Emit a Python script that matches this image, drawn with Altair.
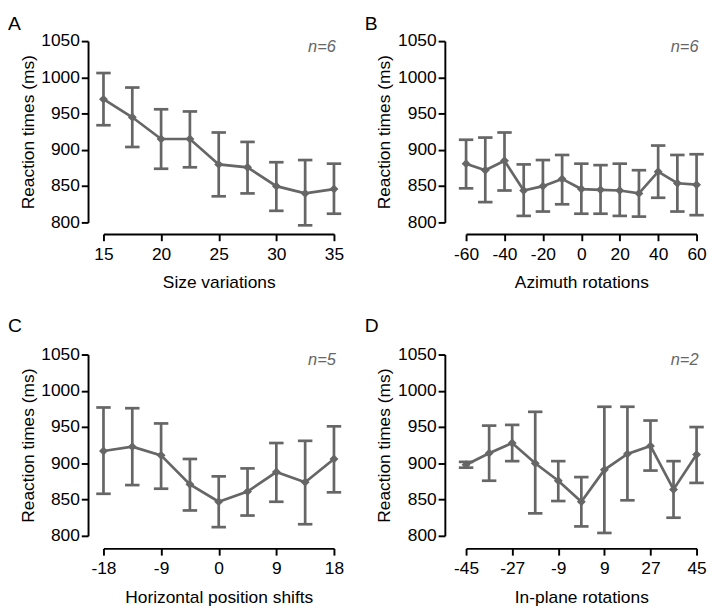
import altair as alt
import pandas as pd

# ---------- data ----------
xA = [15, 17.5, 20, 22.5, 25, 27.5, 30, 32.5, 35]
meanA = [970, 945, 915, 915, 880, 876, 850, 840, 846]
upA = [1006, 986, 956, 953, 924, 911, 883, 886, 881]
loA = [934, 904, 874, 876, 836, 840, 816, 796, 812]

xB = [-60, -50, -40, -30, -20, -10, 0, 10, 20, 30, 40, 50, 60]
meanB = [881, 872, 885, 844, 850, 860, 846, 845, 844, 840, 870, 854, 852]
upB = [914, 917, 924, 880, 886, 893, 881, 879, 881, 872, 906, 893, 894]
loB = [847, 828, 844, 809, 815, 825, 812, 812, 809, 808, 834, 815, 810]

xC = [-18, -13.5, -9, -4.5, 0, 4.5, 9, 13.5, 18]
meanC = [917, 923, 911, 871, 847, 861, 888, 874, 906]
upC = [977, 976, 955, 906, 882, 893, 928, 931, 951]
loC = [858, 870, 865, 835, 812, 828, 847, 816, 860]

xD = [-45, -36, -27, -18, -9, 0, 9, 18, 27, 36, 45]
meanD = [898, 914, 928, 900, 876, 847, 891, 913, 924, 864, 912]
upD = [902, 952, 953, 971, 903, 881, 978, 978, 959, 903, 950]
loD = [894, 876, 903, 831, 848, 813, 804, 849, 890, 825, 873]

ticksA = [15, 20, 25, 30, 35]
ticksB = [-60, -40, -20, 0, 20, 40, 60]
ticksC = [-18, -9, 0, 9, 18]
ticksD = [-45, -27, -9, 9, 27, 45]
yticks = [800, 850, 900, 950, 1000, 1050]

GREY = "#666666"
W, H = 239, 188
FS = 18
SW = 2.8


def panel(xs, mean, up, lo, xticks, xtitle, letter, ntext, yoff, xoff, letter_dx, letter_dy):
    df = pd.DataFrame({"x": xs, "mean": mean, "up": up, "lo": lo})
    xdom = [min(xs), max(xs)]

    def X():
        return alt.X("x:Q", scale=alt.Scale(domain=xdom, nice=False, zero=False),
                     axis=alt.Axis(values=xticks, title=xtitle, offset=xoff,
                                   labelExpr="datum.value + ''", labelFlush=False,
                                   labelPadding=5, titlePadding=12))

    def Y(field):
        return alt.Y(f"{field}:Q", scale=alt.Scale(domain=[800, 1050], nice=False, zero=False),
                     axis=alt.Axis(values=yticks, title="Reaction times (ms)", offset=yoff,
                                   labelExpr="datum.value + ''", labelPadding=2,
                                   titlePadding=4))

    base = alt.Chart(df)
    rule = base.mark_rule(color=GREY, strokeWidth=SW).encode(x=X(), y=Y("lo"), y2="up:Q")
    capU = base.mark_tick(orient="horizontal", size=15, thickness=SW, color=GREY, opacity=1).encode(x=X(), y=Y("up"))
    capL = base.mark_tick(orient="horizontal", size=15, thickness=SW, color=GREY, opacity=1).encode(x=X(), y=Y("lo"))
    line = base.mark_line(color=GREY, strokeWidth=SW).encode(x=X(), y=Y("mean"))
    pts = base.mark_point(shape="diamond", filled=True, size=85, color=GREY, opacity=1).encode(x=X(), y=Y("mean"))

    lab = alt.Chart(pd.DataFrame({"t": [letter]})).mark_text(
        align="left", baseline="top", fontSize=20, color="black"
    ).encode(text="t:N", x=alt.value(letter_dx), y=alt.value(letter_dy))
    nlab = alt.Chart(pd.DataFrame({"t": [ntext]})).mark_text(
        align="right", baseline="alphabetic", fontSize=17, fontStyle="italic", color=GREY
    ).encode(text="t:N", x=alt.value(W + 2), y=alt.value(11))

    return alt.layer(rule, capU, capL, line, pts, lab, nlab).properties(width=W, height=H)


pA = panel(xA, meanA, upA, loA, ticksA, "Size variations", "A", "n=6", 16, 12, -99, -28)
pB = panel(xB, meanB, upB, loB, ticksB, "Azimuth rotations", "B", "n=6", 22, 12, -105, -28)
pC = panel(xC, meanC, upC, loC, ticksC, "Horizontal position shifts", "C", "n=5", 16, 13, -99, -39)
pD = panel(xD, meanD, upD, loD, ticksD, "In-plane rotations", "D", "n=2", 22, 13, -105, -39)

chart = alt.vconcat(
    alt.hconcat(pA, pB, spacing=21),
    alt.hconcat(pC, pD, spacing=21),
    spacing=26,
).properties(
    padding={"left": 0, "top": -5, "right": 5, "bottom": 5}
).configure(
    font="Liberation Sans"
).configure_axis(
    grid=False, domainColor="black", domainWidth=2, tickColor="black", tickWidth=2,
    tickSize=7, labelFontSize=FS, titleFontSize=FS, titleFontWeight="normal",
    labelColor="black", titleColor="black", labelOverlap=False,
).configure_view(stroke=None)

chart.save("out.html", embed_options={"renderer": "svg", "actions": False})
